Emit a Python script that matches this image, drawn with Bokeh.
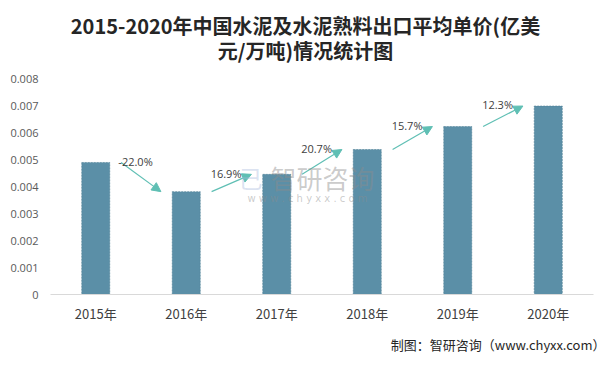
from bokeh.plotting import figure
from bokeh.models import (ColumnDataSource, Label, Arrow, NormalHead, FixedTicker,
                          Range1d, LabelSet, Title)
from bokeh.core.properties import value
from bokeh.embed import file_html
from bokeh.resources import INLINE

years = ["2015年", "2016年", "2017年", "2018年", "2019年", "2020年"]
prices = [0.00489, 0.00381, 0.00445, 0.00537, 0.00622, 0.00698]
growth = ["-22.0%", "16.9%", "20.7%", "15.7%", "12.3%"]
y_ticks = [0, 0.001, 0.002, 0.003, 0.004, 0.005, 0.006, 0.007, 0.008]
y_tick_labels = ["0", "0.001", "0.002", "0.003", "0.004", "0.005", "0.006", "0.007", "0.008"]
title_lines = ["2015-2020年中国水泥及水泥熟料出口平均单价(亿美", "元/万吨)情况统计图"]
source_note = "制图：智研咨询（www.chyxx.com）"

BAR = "#5b8fa7"
ARROW = "#5fbfb4"
TXT = "#404040"

W, H = 613, 369
# the frame extends up to the top so that the title lines (drawn as labels) are visible;
# 0.008 sits 78px from the canvas top, the frame starts 10px from it
FRAME_TOP, AXIS_TOP, AXIS_ZERO = 10, 78, 294
y_max = y_ticks[-1] * (AXIS_ZERO - FRAME_TOP) / (AXIS_ZERO - AXIS_TOP)

p = figure(width=W, height=H, output_backend="svg", toolbar_location=None,
           x_range=Range1d(-0.5, 5.5), y_range=Range1d(0, y_max),
           min_border_left=50, min_border_right=20, min_border_top=FRAME_TOP,
           min_border_bottom=H - AXIS_ZERO)
p.styles = {"outline": "1px solid #a6a6a6", "outline-offset": "-4px"}
p.outline_line_color = None
p.background_fill_color = "white"
p.border_fill_color = "white"
p.xgrid.grid_line_color = None
p.ygrid.grid_line_color = None

xs = list(range(len(years)))
src = ColumnDataSource(dict(x=xs, top=prices))
p.vbar(x="x", top="top", width=0.31, source=src, fill_color=BAR,
       line_color="#4f7f96", line_width=0.6, line_dash="2 1")

# growth arrows
off = 0.28
arr = ColumnDataSource(dict(
    x0=[i + off for i in range(len(growth))],
    y0=prices[:-1],
    x1=[i + 1 - off for i in range(len(growth))],
    y1=prices[1:],
))
p.add_layout(Arrow(end=NormalHead(size=9, fill_color=ARROW, line_color=ARROW),
                   x_start="x0", y_start="y0", x_end="x1", y_end="y1",
                   line_color=ARROW, line_width=1.2, source=arr))
lab = ColumnDataSource(dict(
    x=[i + 0.44 for i in range(len(growth))],
    y=[max(a, b) + 0.00005 for a, b in zip(prices[:-1], prices[1:])],
    t=growth,
))
p.add_layout(LabelSet(x="x", y="y", text="t", source=lab, text_align="center",
                      text_baseline="middle", text_font_size=value("11px"),
                      text_color=TXT, text_font=value("Open Sans")))

# axes
p.xaxis.ticker = FixedTicker(ticks=xs)
p.xaxis.major_label_overrides = {i: y for i, y in enumerate(years)}
p.xaxis.axis_line_color = "#d9d9d9"
p.xaxis.major_tick_line_color = None
p.xaxis.minor_tick_line_color = None
p.xaxis.major_label_text_font_size = "13px"
p.xaxis.major_label_text_color = TXT
p.xaxis.major_label_text_font = "Noto Sans CJK SC"
p.xaxis.major_label_standoff = 3

p.yaxis.ticker = FixedTicker(ticks=y_ticks)
p.yaxis.major_label_overrides = {t: l for t, l in zip(y_ticks, y_tick_labels)}
p.yaxis.axis_line_color = None
p.yaxis.major_tick_line_color = None
p.yaxis.minor_tick_line_color = None
p.yaxis.major_label_text_font_size = "11px"
p.yaxis.major_label_text_color = "#595959"
p.yaxis.major_label_text_font = "Open Sans"
p.yaxis.major_label_standoff = 6

# title lines
for i, t in enumerate(title_lines):
    p.add_layout(Label(x=305, y=25 + 25 * i, x_units="canvas", y_units="canvas",
                       text=t, text_align="center", text_baseline="middle",
                       text_font="Noto Sans CJK SC", text_font_size="20px",
                       text_font_style="bold", text_color="#262626"))

foot = Title(text=source_note, align="right",
             text_font="Noto Sans CJK SC", text_font_size="13px",
             text_font_style="normal", text_color="#262626", standoff=14,
             offset=-12)
p.add_layout(foot, "below")

# watermark
p.add_layout(Label(x=322, y=177, x_units="canvas", y_units="canvas",
                   text="智研咨询", text_align="center", text_baseline="middle",
                   text_font="Noto Sans CJK SC", text_font_size="26px",
                   text_color="#8c8c8c", text_alpha=0.45))
p.add_layout(Label(x=307, y=198, x_units="canvas", y_units="canvas",
                   text="w w w . c h y x x . c o m", text_align="center",
                   text_baseline="middle", text_font="DejaVu Sans",
                   text_font_size="10px", text_color="#8c8c8c", text_alpha=0.45))
p.add_layout(Label(x=250, y=177, x_units="canvas", y_units="canvas",
                   text="己", text_align="center", text_baseline="middle",
                   text_font="Noto Sans CJK SC", text_font_size="24px",
                   text_color="#a3b6dc", text_alpha=0.4))

open("out.html", "w").write(file_html(p, INLINE))
